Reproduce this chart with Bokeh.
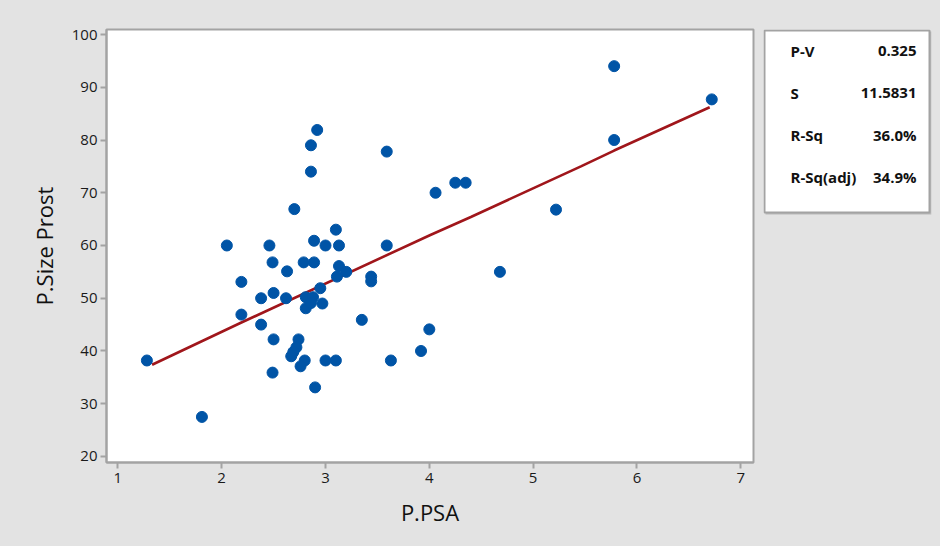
from bokeh.plotting import figure
from bokeh.layouts import row
from bokeh.models import Range1d, FixedTicker, ColumnDataSource, GlobalInlineStyleSheet
from bokeh.core.properties import value
from bokeh.embed import file_html
from bokeh.resources import INLINE

# ---- data ----
psa = [1.28, 1.81, 2.05, 2.19, 2.19, 2.38, 2.38, 2.46, 2.49, 2.50,
       2.50, 2.49, 2.63, 2.62, 2.70, 2.74, 2.72, 2.69, 2.67, 2.80,
       2.76, 2.79, 2.89, 2.86, 2.86, 2.92, 2.89, 2.81, 2.88, 2.81,
       2.86, 2.95, 2.97, 2.90, 3.00, 3.00, 3.10, 3.10, 3.13, 3.13,
       3.20, 3.11, 3.35, 3.44, 3.44, 3.59, 3.59, 3.63, 3.92, 4.00,
       4.06, 4.25, 4.35, 4.68, 5.22, 5.78, 5.78, 6.72]
size_prost = [38.2, 27.5, 60.0, 53.1, 46.9, 50.0, 45.0, 60.0, 56.8, 51.0,
              42.2, 35.9, 55.1, 50.0, 66.9, 42.2, 40.7, 39.8, 39.0, 38.2,
              37.1, 56.8, 56.8, 74.0, 79.0, 81.9, 60.9, 50.2, 50.2, 48.1,
              49.1, 51.9, 49.0, 33.1, 60.0, 38.2, 38.2, 63.0, 60.0, 56.1,
              55.0, 54.1, 45.9, 54.1, 53.2, 77.8, 60.0, 38.2, 40.0, 44.1,
              70.0, 71.9, 71.9, 55.0, 66.8, 94.0, 80.0, 87.7]

fit_x = [1.33, 2.18, 4.01, 4.40, 5.46, 5.78, 6.70]
fit_y = [37.4, 45.3, 62.0, 65.4, 75.0, 78.0, 86.2]

x_ticks = [1, 2, 3, 4, 5, 6, 7]
y_ticks = [20, 30, 40, 50, 60, 70, 80, 90, 100]

stat_names = ["P-V", "S", "R-Sq", "R-Sq(adj)"]
stat_values = ["0.325", "11.5831", "36.0%", "34.9%"]

# ---- styles ----
BG = "#e3e3e3"
FRAME = "#a3a3a3"
DOT = "#0054a6"
FIT = "#a0161b"
FONT = "Open Sans"

H = 530
FT, FB = 29, 462          # frame top / bottom (canvas px)

p = figure(width=760, height=H, output_backend="svg", toolbar_location=None,
           x_range=Range1d(0.891, 7.122), y_range=Range1d(18.86, 100.95),
           min_border_left=106, min_border_right=7, min_border_top=FT,
           min_border_bottom=H - FB)
p.border_fill_color = BG
p.background_fill_color = "white"
p.outline_line_color = FRAME
p.outline_line_width = 2
p.xgrid.visible = False
p.ygrid.visible = False

for ax in (p.xaxis[0], p.yaxis[0]):
    ax.axis_line_color = FRAME
    ax.axis_line_width = 2
    ax.major_tick_line_color = FRAME
    ax.major_tick_line_width = 2
    ax.major_tick_out = 6
    ax.major_tick_in = 0
    ax.minor_tick_line_color = None
    ax.major_label_text_font = FONT
    ax.major_label_text_font_size = "15px"
    ax.major_label_text_color = "#1a1a1a"
    ax.axis_label_text_font = FONT
    ax.axis_label_text_font_size = "22px"
    ax.axis_label_text_font_style = "normal"
    ax.axis_label_text_color = "#111111"

p.xaxis.ticker = FixedTicker(ticks=x_ticks)
p.yaxis.ticker = FixedTicker(ticks=y_ticks)
p.xaxis.axis_label = "P.PSA"
p.yaxis.axis_label = "P.Size Prost"
p.xaxis.major_label_standoff = 4
p.yaxis.major_label_standoff = 3
p.xaxis.axis_label_standoff = 11
p.yaxis.axis_label_standoff = 10

p.line(fit_x, fit_y, line_color=FIT, line_width=2.6)
p.scatter(psa, size_prost, size=11, fill_color=DOT, line_color=DOT)

# ---- stats box (pixel-like coordinates inside a bare side figure) ----
frame_h = FB - FT
q = figure(width=172, height=H, output_backend="svg", toolbar_location=None,
           x_range=Range1d(0, 168), y_range=Range1d(frame_h, 0),
           min_border_left=3, min_border_right=1, min_border_top=FT,
           min_border_bottom=H - FB)
q.border_fill_color = BG
q.background_fill_color = BG
q.outline_line_color = None
q.axis.visible = False
q.grid.visible = False

box_w, box_h = 168, 184
q.quad(left=[2], right=[box_w], top=[2], bottom=[box_h + 1],
       fill_color="#b9b9b9", line_color=None)
q.quad(left=[1], right=[box_w - 2], top=[1], bottom=[box_h - 1],
       fill_color="white", line_color=FRAME, line_width=2)

n = len(stat_names)
row_y = [21 + 42.3 * i for i in range(n)]
src = ColumnDataSource(dict(y=row_y, name=stat_names, val=stat_values,
                            xl=[27] * n, xr=[153] * n))
q.text(x="xl", y="y", text="name", source=src, text_font=value(FONT),
       text_font_size="15px", text_font_style="bold", text_color="#111111",
       text_baseline="middle", text_align="left")
q.text(x="xr", y="y", text="val", source=src, text_font=value(FONT),
       text_font_size="15px", text_font_style="bold", text_color="#111111",
       text_baseline="middle", text_align="right")

page_css = GlobalInlineStyleSheet(css="html, body { background-color: #e3e3e3; }")
layout = row(p, q, spacing=0, stylesheets=[page_css])
open("out.html", "w").write(file_html(layout, INLINE))
